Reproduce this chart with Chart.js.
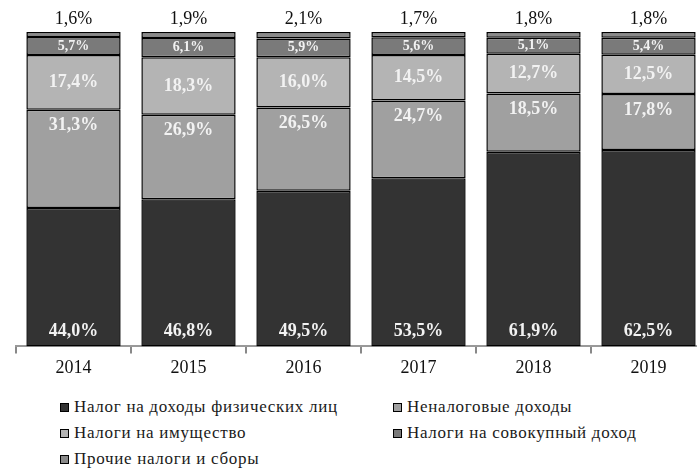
<!DOCTYPE html>
<html>
<head>
<meta charset="utf-8">
<script src="https://cdn.jsdelivr.net/npm/chart.js@4"></script>
<style>
  body { margin: 0; overflow: hidden; background: #fff; }
  #wrap { position: relative; width: 697px; height: 472px; overflow: hidden; }
  #chart { position: absolute; left: 0; top: 0; }
  .lg { position: absolute; font-family: 'Liberation Serif', 'Times New Roman', serif; font-size: 17px; letter-spacing: 0.7px; color: #1a1a1a; white-space: nowrap; line-height: 20px; }
  .lg i { display: inline-block; width: 7px; height: 7px; border: 1.5px solid #000; margin-right: 5px; vertical-align: 0px; }
</style>
</head>
<body>
<div id="wrap">
  <canvas id="chart" width="710" height="387"></canvas>
  <div id="legend"></div>
</div>
<script>
const years = ['2014', '2015', '2016', '2017', '2018', '2019'];
const seriesNames = [
    'Налог на доходы физических лиц',
    'Неналоговые доходы',
    'Налоги на имущество',
    'Налоги на совокупный доход',
    'Прочие налоги и сборы'
];
const ndfl = [44.0, 46.8, 49.5, 53.5, 61.9, 62.5];
const nonTax = [31.3, 26.9, 26.5, 24.7, 18.5, 17.8];
const property = [17.4, 18.3, 16.0, 14.5, 12.7, 12.5];
const totalIncome = [5.7, 6.1, 5.9, 5.6, 5.1, 5.4];
const other = [1.6, 1.9, 2.1, 1.7, 1.8, 1.8];

const colors = ['#333333', '#a0a0a0', '#b4b4b4', '#7a7a7a', '#8a8a8a'];
const allValues = [ndfl, nonTax, property, totalIncome, other];
const serif = '"Liberation Serif", "Times New Roman", serif';

const fmt = v => v.toFixed(1).replace('.', ',') + '%';

// labels drawn on top of the bars
const barLabels = {
    id: 'barLabels',
    afterDatasetsDraw(chart) {
        const ctx = chart.ctx;
        ctx.save();
        ctx.textAlign = 'center';
        ctx.textBaseline = 'middle';
        chart.data.datasets.forEach((ds, i) => {
            const meta = chart.getDatasetMeta(i);
            meta.data.forEach((bar, j) => {
                const p = bar.getProps(['x', 'y', 'base'], true);
                const top = Math.min(p.y, p.base);
                const bottom = Math.max(p.y, p.base);
                const mid = (top + bottom) / 2;
                let y = mid;
                if (i === 4) {
                    ctx.font = '18px ' + serif;
                    ctx.fillStyle = '#111';
                    ctx.fillText(fmt(ds.data[j]), p.x, top - 13);
                    return;
                }
                if (i === 0) y = bottom - 15;
                if (i === 1) y = Math.min(mid, top + 16);
                ctx.font = (i === 3 ? 'bold 14px ' : 'bold 18px ') + serif;
                ctx.fillStyle = '#f2f2f2';
                ctx.fillText(fmt(ds.data[j]), p.x, y);
            });
        });
        ctx.restore();
    }
};

const ctx = document.getElementById('chart').getContext('2d');
const chart = new Chart(ctx, {
    type: 'bar',
    data: {
        labels: years,
        datasets: allValues.map((vals, i) => ({
            label: seriesNames[i],
            data: vals,
            backgroundColor: colors[i],
            borderColor: '#000',
            borderWidth: 1.5,
            borderSkipped: false,
            barPercentage: 0.82,
            categoryPercentage: 1
        }))
    },
    options: {
        responsive: false,
        animation: false,
        layout: { padding: { top: 32, left: 16, right: 4, bottom: 4 } },
        scales: {
            x: {
                stacked: true,
                grid: { display: true, drawOnChartArea: false, drawTicks: true, tickLength: 7, color: '#888', lineWidth: 2, offset: true },
                border: { display: true, color: '#999', width: 2 },
                ticks: { color: '#111', padding: 4, font: { family: serif, size: 18 } }
            },
            y: {
                stacked: true,
                display: false,
                min: 0,
                max: 100
            }
        },
        plugins: { legend: { display: false }, tooltip: { enabled: false } }
    },
    plugins: [barLabels]
});

// legend in two columns, like the original
const legendPos = [[60, 397], [393, 397], [60, 423], [393, 423], [60, 449]];
const legendEl = document.getElementById('legend');
seriesNames.forEach((name, i) => {
    const d = document.createElement('div');
    d.className = 'lg';
    d.style.left = legendPos[i][0] + 'px';
    d.style.top = legendPos[i][1] + 'px';
    d.innerHTML = '<i style="background:' + colors[i] + '"></i>' + name;
    legendEl.appendChild(d);
});
</script>
</body>
</html>
